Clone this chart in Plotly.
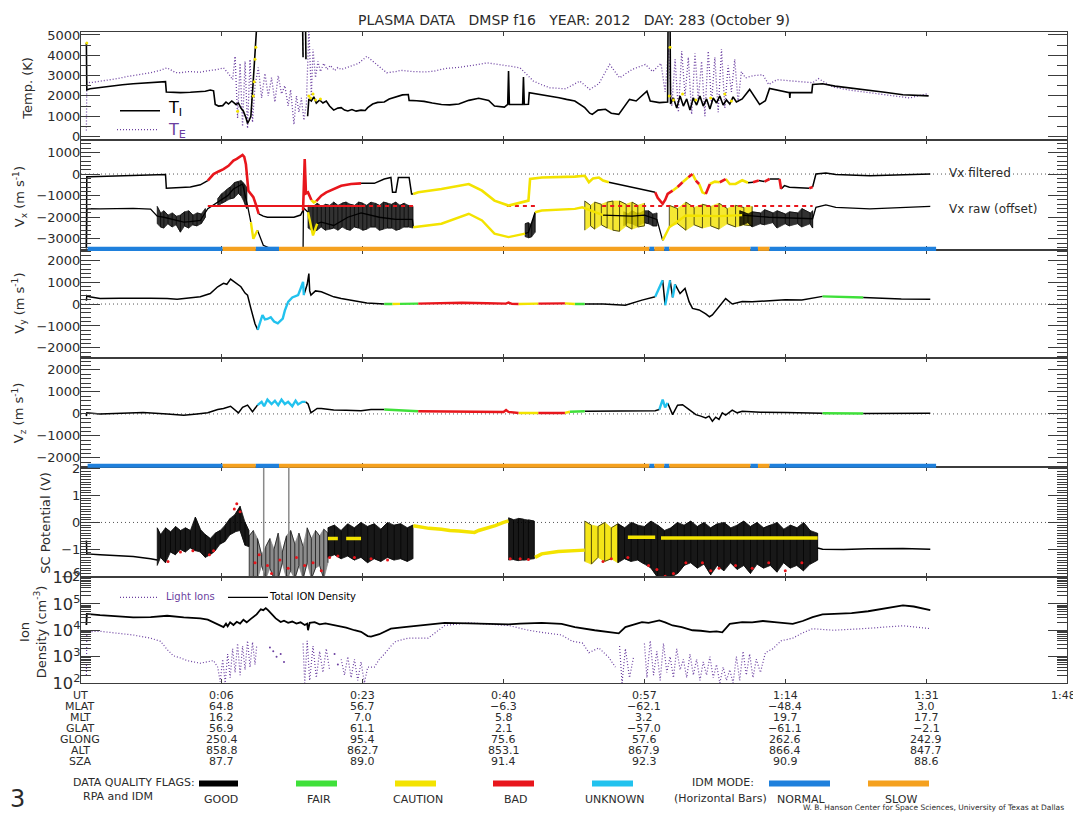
import plotly.graph_objects as go

# =========================== DATA =======================================
# time axis: minutes of UT (2012 day 283); axis starts 11 min before 0:00
T_RANGE = [-11, 108]
ut_ticks = [6, 23, 40, 57, 74, 91, 108]
ut_labels = ["0:06", "0:23", "0:40", "0:57", "1:14", "1:31", "1:48"]
mlat_vals = [64.8, 56.7, -6.3, -62.1, -48.4, 3.0]
mlt_vals = [16.2, 7.0, 5.8, 3.2, 19.7, 17.7]
glat_vals = [56.9, 61.1, 2.1, -57.0, -61.1, -2.1]
glong_vals = [250.4, 95.4, 75.6, 57.6, 262.6, 242.9]
alt_vals = [858.8, 862.7, 853.1, 867.9, 866.4, 847.7]
sza_vals = [87.7, 89.0, 91.4, 92.3, 90.9, 88.6]

# ---- Temperatures (K) : (t, value) ----
ti_pts = [(-10.35,4600),(-10.3,2300),(-9.9,2350),(-8.7,2420),(-7.5,2480),(-6.0,2550),(-4.7,2600),(-3.5,2630),
          (-2.6,2650),(-1.5,2680),(-0.8,2700),(-0.7,2190),(0.2,2170),(1.0,2160),(2.2,2180),(3.4,2190),(4.0,2230),
          (4.6,2290),(5.0,2250),(5.2,1580),(5.6,1500),(6.1,1520),(6.5,1700),(6.8,1600),(7.2,1750),(7.7,1580),
          (8.0,1650),(8.3,1400),(8.6,1250),(8.9,930),(9.1,650),(9.3,800),(9.5,1000),(9.8,2800),(10.0,4000),
          (10.2,5400),(10.25,None),(15.75,5400),(15.8,3900),(15.85,None),(16.1,5400),(16.15,3800),(16.2,None),
          (16.35,1000),(16.5,1850),(16.8,1750),(17.1,1950),(17.4,1650),(17.8,1800),(18.2,1650),(18.6,1750),
          (19.0,1500),(19.5,1300),(20.0,1400),(20.4,1420),(20.8,1300),(21.2,1260),(21.7,1330),(22.2,1250),
          (22.8,1300),(23.3,1280),(23.6,1420),(24.2,1600),(24.8,1680),(25.6,1700),(26.2,1850),(27.0,1950),
          (27.8,2050),(28.5,2070),(28.6,1780),(29.5,1760),(30.4,1730),(31.4,1650),(32.5,1580),(33.5,1560),
          (34.6,1600),(35.8,1780),(37.0,1880),(38.2,1780),(38.9,1500),(40.1,1450),(40.5,1580),(40.6,3220),
          (40.7,1580),(42.3,1580),(42.4,2930),(42.5,1580),(43.0,1590),(43.1,2160),(44.6,2070),(45.6,2000),
          (46.7,1910),(47.6,1830),(48.6,1750),(49.8,1420),(50.4,1150),(50.7,1090),(51.4,1300),(52.3,1340),
          (53.0,1150),(53.9,1090),(54.5,1450),(55.2,1830),(56.0,1750),(56.7,1990),(57.3,2230),(57.7,1750),
          (58.8,1670),(59.8,1700),(59.85,5400),(60.1,5400),(60.15,1600),(60.5,1900),(60.9,1400),(61.3,2000),
          (61.7,1500),(62.1,1850),(62.5,1300),(62.9,1900),(63.3,1550),(63.7,2000),(64.1,1500),(64.5,1850),
          (64.9,1350),(65.3,1900),(65.7,1650),(66.1,2000),(66.5,1550),(66.9,1800),(67.3,1600),(67.7,1950),
          (68.1,1700),(68.8,1850),(69.7,2320),(70.9,1580),(71.6,1760),(72.1,2370),(73.7,2240),(74.5,2160),
          (74.55,1900),(74.6,2160),(76.1,2160),(77.2,2160),(77.3,2560),(78.5,2600),(80.0,2480),(83.4,2330),
          (86.0,2180),(88.2,2060),(91.3,2000)]
ti_caution_pts = [(-10.3,4600),(7.9,1250),(9.8,2000),(9.9,2700),(10.0,3800),(10.1,4400),(16.5,2000),(16.7,1900),
                  (17.0,2100),(17.3,1800),(17.9,1850),(60.0,2000),(60.1,4400),(60.5,1800),(61.6,2100),(63.2,1800),
                  (65.0,1900),(66.7,2100),(67.5,1750)]
te_pts = [(-10.35,300),(-10.3,2700),(-9.9,2650),(-9.0,2700),(-8.0,2760),(-7.5,2780),(-6.5,2860),(-5.5,2950),
          (-4.7,3000),(-3.5,3080),(-2.6,3140),(-1.5,3250),(-0.6,3380),(0.4,3150),(1.0,3140),(2.0,3200),(3.4,3170),
          (4.5,3250),(5.5,3300),(6.2,3380),(6.8,3100),(7.3,2800),(7.6,3950),(7.9,900),(8.2,3600),(8.5,500),
          (8.8,3700),(9.1,400),(9.4,3800),(9.7,700),(10.0,2500),(10.4,3400),(10.8,1900),(11.2,3100),(11.6,2000),
          (12.0,2900),(12.4,1700),(12.8,3000),(13.2,2100),(13.6,2500),(14.0,1500),(14.3,2300),(14.7,600),
          (15.0,2000),(15.3,1200),(15.6,1900),(15.9,800),(16.2,1600),(16.5,5300),(16.8,2000),(17.0,4300),
          (17.3,2900),(17.6,3700),(17.9,3200),(18.3,3600),(18.7,3300),(19.1,3500),(19.6,3250),(20.0,3400),
          (20.4,3300),(21.0,3380),(21.6,3460),(22.5,3600),(23.5,3950),(24.7,3550),(25.9,3140),(27.0,3200),
          (27.6,3260),(29.0,3200),(30.5,3180),(31.6,3220),(33.0,3350),(34.5,3400),(35.6,3460),(37.0,3550),
          (38.0,3630),(39.6,3550),(41.0,3450),(42.0,3380),(43.6,2730),(44.6,2550),(45.6,2400),(47.5,2350),
          (49.2,2730),(50.4,2320),(51.5,2600),(52.8,3550),(54.0,2890),(55.5,3300),(57.1,3550),(58.0,3200),
          (59.0,3600),(59.5,2200),(59.9,4300),(60.3,1500),(60.7,3800),(61.1,1200),(61.5,4200),(61.9,2000),
          (62.3,3900),(62.7,1100),(63.1,4100),(63.5,1800),(63.9,3700),(64.3,1000),(64.7,4200),(65.1,1600),
          (65.5,3900),(65.9,1200),(66.3,4300),(66.7,1400),(67.1,3500),(67.5,2200),(67.9,3800),(68.3,1700),
          (68.7,3200),(69.2,2890),(70.2,3000),(71.3,3040),(72.0,2560),(73.0,2800),(74.5,2750),(75.8,2730),
          (77.3,2650),(78.0,2850),(79.7,2450),(81.5,2300),(83.8,2180),(86.0,2060),(88.0,1960),(89.0,1900),
          (90.5,2050),(91.3,2120)]

# ---- Velocities (m/s) : (t, value, quality flag) G=good F=fair C=caution B=bad U=unknown ----
vx_filt = [(-10.35,-3400,'G'),(-10.3,-130,'G'),(-9.9,-130,'G'),(-7.5,-110,'G'),(-4.7,-80,'G'),(-2.6,-60,'G'),
           (-0.8,-20,'G'),(-0.7,-660,'G'),(1.0,-640,'G'),(2.2,-600,'G'),(3.4,-500,'G'),(4.3,-300,'B'),(5.0,0,'B'),
           (5.6,120,'B'),(6.2,230,'B'),(6.8,380,'B'),(7.4,620,'B'),(7.8,700,'B'),(8.2,820,'B'),(8.5,880,'B'),
           (8.7,800,'B'),(8.9,460,'B'),(9.2,-770,'B'),(9.5,-900,'B'),(9.8,-1070,'B'),(10.1,-1400,'B'),
           (10.45,-1840,'G'),(11.0,-1950,'G'),(11.5,-2000,'G'),(13.0,-2000,'G'),(14.7,-2000,'G'),(15.5,-1900,'G'),
           (15.8,-1680,'B'),(16.0,690,'B'),(16.15,-900,'B'),(16.4,-850,'B'),(16.8,-1200,'C'),(17.1,-1310,'C'),
           (17.4,-1250,'B'),(18.0,-1000,'B'),(18.6,-850,'B'),(19.5,-690,'B'),(20.4,-540,'B'),(21.6,-460,'B'),
           (22.8,-430,'G'),(24.4,-430,'G'),(25.6,-230,'G'),(26.4,-160,'G'),(26.6,-845,'G'),(27.0,-845,'G'),
           (27.3,-160,'G'),(28.6,-160,'G'),(28.9,-920,'G'),(29.1,-920,'C'),(29.7,-845,'C'),(32.5,-690,'C'),
           (35.8,-460,'C'),(37.4,-770,'C'),(38.9,-1230,'C'),(40.6,-1460,'C'),(41.5,-1380,'C'),(43.0,-1230,'C'),
           (43.2,-230,'C'),(44.6,-160,'C'),(48.6,-120,'C'),(49.8,-80,'C'),(50.3,-380,'C'),(50.8,-200,'C'),
           (51.5,-160,'C'),(52.0,-300,'C'),(52.7,-380,'G'),(54.7,-535,'G'),(56.7,-690,'G'),(58.3,-840,'B'),
           (58.6,-1100,'B'),(59.2,-1380,'B'),(59.5,-1200,'B'),(59.8,-920,'B'),(60.4,-770,'C'),(61.0,-600,'B'),
           (61.6,-380,'C'),(62.3,-150,'B'),(62.8,0,'C'),(63.2,-300,'B'),(63.6,-460,'C'),(64.0,-845,'C'),
           (64.4,-920,'B'),(64.9,-460,'C'),(65.5,-350,'C'),(66.1,-380,'B'),(66.8,-230,'C'),(67.3,-460,'C'),
           (68.0,-460,'C'),(68.8,-290,'C'),(69.5,-400,'G'),(70.1,-380,'B'),(70.8,-300,'G'),(71.5,-350,'B'),
           (72.1,-230,'G'),(73.3,-230,'B'),(73.5,-690,'G'),(73.9,-535,'G'),(74.5,-610,'G'),(76.9,-660,'B'),
           (77.3,-600,'G'),(77.5,-300,'G'),(77.7,0,'G'),(78.9,50,'G'),(80.1,-20,'G'),(84.2,-75,'G'),
           (88.2,-20,'G'),(91.5,0,'G')]
vx_raw = [(-10.35,-3450,'G'),(-10.3,-1600,'G'),(-8.7,-1610,'G'),(-6.3,-1600,'G'),(-4.7,-1590,'G'),(-2.6,-1620,'G'),
          (-1.8,-1950,'G'),(-1.0,-2000,'G'),(0.6,-2150,'G'),(1.4,-2230,'G'),(2.2,-2200,'G'),(3.4,-2150,'G'),
          (4.3,-1600,'G'),(5.5,-1300,'G'),(6.7,-1000,'G'),(7.4,-690,'G'),(8.0,-550,'G'),(8.5,-460,'G'),
          (9.1,-1460,'G'),(9.5,-2230,'C'),(9.8,-3000,'C'),(10.3,-2600,'G'),(11.0,-3300,'G'),(11.9,-3450,'G'),
          (12.8,-3530,'G'),(12.9,None,'G'),(15.8,-3530,'G'),(15.85,-1560,'G'),(16.4,-1770,'C'),(17.0,-2840,'C'),
          (17.5,-2300,'G'),(18.0,-2230,'G'),(19.5,-2380,'G'),(21.2,-2000,'G'),(22.8,-1800,'G'),(25.0,-2000,'G'),
          (27.0,-2100,'G'),(29.0,-2100,'G'),(29.1,-2460,'C'),(32.5,-2300,'C'),(35.8,-1840,'C'),(37.4,-2150,'C'),
          (38.9,-2760,'C'),(40.6,-2920,'C'),(42.6,-2760,'G'),(43.0,-2700,'G'),(43.8,-1770,'C'),(44.6,-1690,'C'),
          (48.6,-1610,'C'),(49.5,-1540,'C'),(52.0,-1900,'G'),(55.5,-1950,'G'),(57.0,-1900,'G'),(58.5,-2100,'G'),
          (59.2,-3070,'C'),(60.0,-2460,'C'),(62.0,-1920,'C'),(66.0,-1950,'C'),(68.8,-1900,'G'),(72.0,-2000,'G'),
          (77.3,-2070,'G'),(77.7,-1540,'G'),(78.9,-1430,'G'),(80.1,-1540,'G'),(84.2,-1610,'G'),(88.0,-1560,'G'),
          (91.5,-1500,'G')]
# noisy spread of raw Vx: (flag, times, low, high)
vx_raw_spread = [
    ('G', [-1.8,-1.4,-1.0,-0.5,0.0,0.5,1.0,1.5,2.0,2.5,3.0,3.5,4.0],
          [-2300,-2450,-2500,-2300,-2450,-2350,-2690,-2400,-2500,-2350,-2400,-2300,-2000],
          [-1500,-1800,-1700,-1900,-1800,-1950,-1900,-1750,-1700,-1900,-1800,-1850,-1600]),
    ('G', [5.5,6.0,6.5,7.0,7.5,8.0,8.3,8.7,9.0], [-1500,-1350,-1250,-1150,-1100,-900,-1000,-1300,-1600],
          [-1150,-900,-750,-600,-400,-350,-300,-450,-600]),
    ('G', [16.4,17.0,17.5,18.0,18.5,19.0,19.5,20.0,20.5,21.0,21.5,22.0,22.5,23.0,23.5,24.0,24.5,25.0,25.5,26.0,
           26.5,27.0,27.5,28.0,28.5,29.05],
          [-2500,-2650,-2600,-2450,-2600,-2550,-2500,-2600,-2450,-2550,-2600,-2450,-2500,-2600,-2550,-2450,
           -2450,-2600,-2550,-2500,-2500,-2600,-2550,-2450,-2450,-2500],
          [-1450,-1500,-1350,-1500,-1400,-1450,-1300,-1450,-1350,-1300,-1400,-1450,-1300,-1350,-1450,-1300,
           -1350,-1450,-1300,-1350,-1400,-1300,-1450,-1350,-1450,-1500]),
    ('G', [42.6,43.0,43.4,43.8], [-2900,-2950,-2900,-2700], [-2300,-2250,-2350,-1800]),
    ('G', [54.5,55.0,55.5,56.0,56.5,57.0,57.5,58.0,58.5], [-2400,-2250,-2300,-2400,-2350,-2250,-2300,-2400,-2400],
          [-1750,-1850,-1700,-1800,-1800,-1700,-1700,-1850,-1800]),
    ('C', [49.8,50.5,51.0,51.8,52.5,53.2,54.0,54.8,55.5,56.2,57.0],
          [-2600,-2400,-2550,-2350,-2500,-2600,-2650,-2400,-2550,-2450,-2400],
          [-1250,-1450,-1300,-1400,-1300,-1250,-1250,-1400,-1300,-1450,-1350]),
    ('C', [60.0,61.0,62.0,63.0,64.0,65.0,66.0,67.0,68.0,69.0,70.0],
          [-2450,-2300,-2600,-2350,-2500,-2400,-2550,-2300,-2450,-2350,-2400],
          [-1450,-1600,-1300,-1550,-1400,-1500,-1350,-1600,-1450,-1550,-1500]),
    ('G', [68.5,69.5,70.0,71.0,71.5,72.5,73.0,74.0,74.5,75.5,76.0,77.0,77.3],
          [-2400,-2250,-2450,-2300,-2350,-2250,-2500,-2300,-2400,-2300,-2450,-2300,-2500],
          [-1700,-1850,-1750,-1800,-1650,-1800,-1700,-1850,-1750,-1800,-1600,-1800,-1700]),
]
vx_offset_level = -1480
vx_offset_solid = [(4.3, 22.8)]
vx_offset_dashed = [(22.8, 29.1), (40.4, 44.0), (51.9, 77.3)]

vy_pts = [(-10.35,150,'G'),(-10.3,380,'G'),(-10.0,330,'G'),(-8.7,250,'G'),(-6.3,270,'G'),(-4.7,280,'G'),
          (-2.6,270,'G'),(-0.6,250,'G'),(0.6,220,'G'),(2.0,280,'G'),(3.4,330,'G'),(4.6,480,'G'),(5.5,790,'G'),
          (6.2,950,'G'),(6.6,900,'G'),(7.05,1140,'G'),(7.5,1000,'G'),(8.3,790,'G'),(8.8,500,'G'),(9.1,410,'G'),
          (9.5,-200,'G'),(9.8,-600,'G'),(10.0,-900,'G'),(10.33,-1180,'U'),(10.6,-800,'U'),(10.9,-500,'U'),
          (11.2,-700,'U'),(11.5,-680,'U'),(11.9,-600,'U'),(12.3,-800,'U'),(12.75,-880,'U'),(13.1,-750,'U'),
          (13.35,-660,'U'),(13.6,-300,'U'),(14.0,100,'U'),(14.5,300,'U'),(15.2,410,'U'),(15.5,700,'U'),
          (15.8,1010,'U'),(15.9,410,'G'),(16.3,900,'G'),(16.5,1390,'G'),(16.6,600,'G'),(16.75,410,'G'),
          (17.3,600,'G'),(18.0,560,'G'),(18.8,450,'G'),(19.5,330,'G'),(20.4,250,'G'),(21.6,180,'G'),
          (22.4,100,'G'),(23.5,50,'G'),(25.6,0,'F'),(26.6,0,'C'),(27.5,10,'F'),(29.7,20,'B'),(32.0,50,'B'),
          (35.0,60,'B'),(38.0,40,'B'),(40.3,20,'B'),(40.6,70,'B'),(41.0,10,'B'),(41.8,0,'C'),(44.2,20,'B'),
          (47.4,30,'C'),(48.6,0,'F'),(49.8,0,'G'),(52.0,0,'G'),(54.7,-50,'G'),(55.5,50,'G'),(56.7,180,'G'),
          (58.3,330,'U'),(59.2,1090,'G'),(59.5,-50,'U'),(60.1,1090,'G'),(60.4,300,'U'),(60.7,900,'G'),
          (61.3,480,'G'),(61.9,710,'G'),(62.4,100,'G'),(62.8,-200,'G'),(63.6,-270,'G'),(64.4,-450,'G'),
          (64.85,-580,'G'),(65.2,-500,'G'),(66.4,100,'G'),(66.8,250,'G'),(67.6,0,'G'),(68.8,120,'G'),
          (70.0,100,'G'),(72.0,150,'G'),(74.0,200,'G'),(76.0,180,'G'),(78.5,350,'F'),(81.0,330,'F'),
          (83.4,300,'G'),(86.0,250,'G'),(88.0,230,'G'),(91.5,220,'G')]
vz_pts = [(-10.35,-100,'G'),(-10.3,50,'G'),(-8.7,0,'G'),(-6.0,30,'G'),(-3.5,70,'G'),(-0.6,0,'G'),(1.4,-60,'G'),
          (3.0,0,'G'),(4.3,50,'G'),(5.5,200,'G'),(6.2,250,'G'),(7.05,350,'G'),(7.5,200,'G'),(8.0,50,'G'),
          (8.5,300,'G'),(9.1,400,'G'),(9.7,100,'G'),(10.3,400,'U'),(10.8,550,'U'),(11.1,350,'U'),(11.5,650,'U'),
          (12.0,450,'U'),(12.4,600,'U'),(12.8,400,'U'),(13.2,650,'U'),(13.6,450,'U'),(14.0,550,'U'),
          (14.5,350,'U'),(14.9,600,'U'),(15.2,430,'U'),(15.7,550,'U'),(16.1,550,'G'),(16.4,450,'G'),
          (16.75,50,'G'),(17.5,250,'G'),(18.0,250,'G'),(19.5,180,'G'),(21.0,170,'G'),(22.8,150,'G'),
          (24.0,200,'G'),(25.6,200,'F'),(29.7,120,'B'),(35.0,90,'B'),(40.0,90,'B'),(40.3,180,'B'),(40.6,90,'B'),
          (41.8,45,'C'),(44.2,45,'B'),(47.4,45,'C'),(48.0,100,'F'),(49.8,120,'G'),(55.0,120,'G'),(58.3,150,'G'),
          (58.8,200,'U'),(59.2,650,'U'),(59.5,300,'U'),(59.8,500,'G'),(60.1,250,'G'),(60.4,-30,'G'),
          (61.0,400,'G'),(61.6,420,'G'),(62.4,200,'G'),(63.2,-30,'G'),(63.8,-100,'G'),(64.4,-180,'G'),
          (64.8,-100,'G'),(65.2,-330,'G'),(65.6,-150,'G'),(66.0,-250,'G'),(66.4,45,'G'),(66.8,-50,'G'),
          (67.6,170,'G'),(68.2,50,'G'),(68.8,120,'G'),(71.0,80,'G'),(74.0,60,'G'),(77.0,50,'G'),(78.5,30,'F'),
          (83.4,20,'G'),(85.0,20,'G'),(91.5,30,'G')]

# IDM mode (horizontal bars): (start, end, mode) N=normal S=slow
idm_segments = [(-10.2,6.1,'N'),(6.1,10.1,'S'),(10.1,12.9,'N'),(12.9,57.6,'S'),(57.6,58.2,'N'),(58.2,59.4,'S'),
                (59.4,60.0,'N'),(60.0,69.8,'S'),(69.8,70.7,'N'),(70.7,72.1,'S'),(72.1,92.2,'N')]

# ---- Spacecraft potential (V) ----
sc_quiet = [(-10.35,-0.67),(-10.3,-1.17),(-8.7,-1.2),(-6.3,-1.24),(-4.7,-1.27),(-2.6,-1.35),(-1.8,-1.4),
            (-1.75,None),(77.9,-0.95),(78.5,-1.0),(81.0,-1.01),(84.0,-0.98),(88.2,-0.97),(91.5,-1.0)]
sc_caution = [(18.8,-0.6),(20.0,-0.6),(20.05,None),(21.0,-0.6),(22.8,-0.6),(22.85,None),(29.1,-0.12),(30.0,-0.18),
              (31.0,-0.22),(32.5,-0.25),(33.5,-0.3),(34.6,-0.32),(35.5,-0.35),(36.5,-0.37),(37.0,-0.3),
              (38.0,-0.22),(39.0,-0.12),(40.0,0.0),(40.6,0.06),(40.65,None),(43.8,-1.3),(44.6,-1.17),
              (46.6,-1.08),(48.6,-1.03),(49.8,-1.03),(49.85,None),(55.0,-0.55),(58.3,-0.55),(58.35,None),
              (59.0,-0.58),(77.9,-0.58)]
# (flag, fill opacity, times, low, high)
sc_spread = [
    ('G', 0.9, [-1.8,-1.4,-0.8,-0.2,0.4,1.0,1.6,2.2,2.8,3.4,4.0,4.6,5.2,5.8,6.4,7.0,7.6,8.2,8.8,9.25],
     [-1.6,-1.3,-1.5,-1.1,-1.2,-1.0,-1.1,-0.95,-1.05,-1.1,-1.3,-1.2,-1.05,-0.8,-0.7,-0.45,-0.35,-0.3,-0.85,-0.9],
     [-0.2,-0.45,-0.2,-0.35,-0.15,-0.3,-0.2,-0.3,0.2,-0.25,-0.45,-0.6,-0.4,-0.3,-0.1,0.15,0.3,0.6,0.0,-0.3]),
    ('G', 0.45, [9.3,9.8,10.3,10.8,11.3,11.8,12.3,12.8,13.3,13.8,14.3,14.8,15.3,15.8,16.3,16.8,17.3,17.8,18.3,18.8],
     [-2.1,-2.1,-2.1,-1.6,-2.1,-1.7,-2.1,-2.1,-1.5,-2.1,-1.8,-2.1,-1.6,-2.1,-1.5,-2.1,-1.7,-1.6,-2.1,-1.5],
     [-0.5,-0.3,-0.6,-1.2,-0.9,-0.6,-1.0,-0.4,-1.1,-0.5,-0.3,-0.8,-0.4,-0.9,-0.2,-0.6,-0.3,-0.5,-0.25,-0.4]),
    ('G', 0.9, [18.8,19.6,20.4,21.2,22.0,22.8,23.6,24.4,25.2,26.0,26.8,27.6,28.4,29.05],
     [-1.3,-1.2,-1.35,-1.25,-1.4,-1.3,-1.5,-1.35,-1.45,-1.3,-1.4,-1.35,-1.45,-1.35],
     [-0.2,-0.1,-0.3,-0.05,-0.2,0.0,-0.15,-0.05,-0.25,0.0,-0.1,-0.05,-0.2,-0.1]),
    ('G', 0.9, [40.6,41.2,41.8,42.4,43.0,43.7], [-1.4,-1.38,-1.42,-1.4,-1.38,-1.35], [0.17,0.1,0.15,0.12,0.1,0.05]),
    ('C', 0.9, [49.8,50.6,51.4,52.2,53.0,53.8], [-1.45,-1.55,-1.3,-1.45,-1.35,-1.5], [0.05,-0.1,-0.15,0.0,-0.2,-0.05]),
    ('G', 0.9, [53.8,54.6,55.4,56.2,57.0,57.8,58.6,59.4,60.2,61.0,61.8,62.6,63.4,64.2,65.0,65.8,66.6,67.4,68.2,
                69.0,69.8,70.6,71.4,72.2,73.0,73.8,74.6,75.4,76.2,77.0,77.9],
     [-1.5,-1.35,-1.45,-1.4,-1.55,-1.7,-2.05,-2.1,-2.05,-1.9,-1.6,-1.5,-1.7,-1.55,-1.95,-1.6,-1.8,-1.5,-1.75,
      -1.6,-1.9,-1.55,-1.7,-1.6,-1.85,-1.5,-1.7,-1.6,-1.8,-1.55,-1.4],
     [-0.05,-0.2,0.0,-0.1,-0.15,0.05,-0.1,-0.3,-0.2,0.0,-0.1,0.05,-0.15,0.0,-0.2,-0.05,0.0,-0.2,-0.1,0.05,
      -0.15,0.0,-0.2,-0.1,0.0,-0.25,-0.1,-0.2,0.0,-0.3,-0.4]),
]
sc_bad_pts = [(-0.5,-1.45),(1.0,-1.1),(2.5,-1.05),(4.5,-1.2),(5.0,-1.05),(7.5,0.5),(7.8,0.7),(8.2,0.4),(10.0,-1.5),
              (10.5,-1.2),(11.5,-1.6),(12.0,-1.9),(13.0,-1.4),(14.0,-1.7),(15.0,-1.3),(16.0,-1.6),(17.0,-1.5),
              (18.0,-1.8),(19.0,-1.3),(20.0,-1.25),(22.0,-1.3),(24.0,-1.35),(26.0,-1.4),(40.8,-1.35),(42.0,-1.35),
              (43.0,-1.38),(52.0,-1.45),(53.0,-1.35),(55.0,-1.3),(57.5,-1.6),(58.5,-1.75),(59.5,-2.0),(60.5,-1.9),
              (62.0,-1.5),(64.0,-1.5),(65.0,-1.8),(66.0,-1.7),(68.0,-1.6),(70.0,-1.7),(72.0,-1.5),(74.0,-1.8),
              (76.0,-1.5)]
sc_spike_times = [11.05, 14.08]

# ---- Ion density, log10(cm^-3) ----
ntot_log = [(-10.35,4.2),(-10.3,4.62),(-8.7,4.57),(-6.3,4.53),(-4.7,4.49),(-2.6,4.5),(-0.6,4.55),(1.4,4.49),
            (3.4,4.45),(4.3,4.40),(5.0,4.3),(5.5,4.2),(6.2,4.12),(6.5,4.25),(6.7,4.15),(7.0,4.3),(7.4,4.2),
            (7.8,4.32),(8.2,4.25),(8.6,4.4),(9.0,4.3),(9.5,4.43),(9.8,4.5),(10.2,4.6),(10.5,4.72),(10.7,4.79),
            (11.0,4.76),(11.3,4.84),(11.6,4.75),(11.9,4.65),(12.5,4.45),(13.1,4.31),(13.5,4.36),(14.0,4.28),
            (14.5,4.33),(15.0,4.25),(15.5,4.3),(16.0,4.2),(16.3,4.25),(16.4,4.0),(16.6,4.28),(17.2,4.31),
            (17.8,4.22),(18.5,4.26),(19.5,4.19),(21.0,4.1),(22.0,4.0),(22.8,3.94),(23.6,3.78),(24.0,3.76),
            (25.0,3.85),(26.4,4.06),(28.0,4.12),(29.7,4.18),(32.9,4.28),(35.8,4.26),(38.0,4.24),(40.6,4.22),
            (42.0,4.25),(44.6,4.28),(47.0,4.24),(48.6,4.12),(51.0,4.0),(53.9,3.88),(54.7,4.12),(55.5,4.2),
            (56.7,4.31),(57.5,4.28),(58.8,4.37),(59.5,4.3),(60.4,4.18),(61.5,4.12),(62.8,4.0),(63.8,3.98),
            (64.9,3.94),(65.7,3.96),(66.4,3.92),(67.3,4.24),(68.8,4.31),(70.0,4.3),(71.3,4.35),(73.0,4.3),
            (74.9,4.24),(76.1,4.35),(77.3,4.5),(78.5,4.6),(80.0,4.63),(82.0,4.65),(84.0,4.72),(86.0,4.82),
            (88.2,4.94),(89.5,4.9),(91.5,4.76)]
nlight_log = [(-10.35,2.3),(-10.3,3.94),(-8.7,3.96),(-6.3,3.88),(-4.7,3.82),(-2.6,3.7),(-1.4,3.58),(-0.6,3.27),
              (0.15,3.03),(1.0,2.95),(1.8,2.85),(2.6,2.8),(3.4,2.75),(4.2,2.8),(5.0,2.85),(5.5,2.6),(5.8,2.05),
              (6.1,2.9),(6.4,2.0),(6.7,3.1),(7.0,2.2),(7.3,3.3),(7.6,2.4),(7.9,3.5),(8.2,2.3),(8.5,3.4),(8.8,2.5),
              (9.1,3.6),(9.4,2.6),(9.7,3.55),(10.0,2.7),(10.2,3.4),(10.3,None),(15.8,3.5),(16.0,2.0),(16.3,3.6),
              (16.6,2.1),(17.0,3.4),(17.4,2.2),(17.8,3.2),(18.2,2.4),(18.6,3.3),(19.0,2.5),(19.2,None),(20.4,2.9),
              (20.8,2.3),(21.2,3.0),(21.6,2.2),(22.0,2.9),(22.4,2.1),(22.8,2.8),(23.2,2.0),(23.6,2.6),(24.4,2.6),
              (25.0,2.9),(25.6,3.09),(26.4,3.4),(27.0,3.58),(28.5,3.7),(30.9,3.7),(32.9,4.18),(35.8,4.28),
              (40.6,4.18),(43.0,4.0),(44.6,3.92),(47.0,3.82),(48.3,3.58),(49.5,3.52),(50.3,3.15),(51.5,3.33),
              (52.7,2.97),(53.5,2.6),(53.6,None),(54.0,3.4),(54.3,2.0),(54.7,3.3),(55.2,2.2),(55.7,3.0),(55.8,None),
              (57.0,3.5),(57.3,2.2),(57.7,3.6),(58.1,2.3),(58.5,3.2),(58.9,2.1),(59.3,3.5),(59.7,2.4),(60.1,3.0),
              (60.5,2.2),(60.9,3.3),(61.3,2.5),(61.7,2.9),(62.1,2.2),(62.5,3.1),(62.9,2.3),(63.3,2.9),(63.7,2.1),
              (64.1,2.8),(64.5,2.3),(64.9,3.0),(65.3,2.2),(65.7,2.7),(66.1,2.0),(66.5,2.6),(66.9,2.1),(67.3,2.5),
              (67.7,2.0),(68.1,3.0),(68.5,2.1),(68.9,3.2),(69.3,2.3),(69.7,3.1),(70.1,2.2),(70.5,2.9),(71.0,2.4),
              (71.6,3.15),(72.5,3.3),(73.5,3.6),(74.9,3.7),(76.1,3.9),(77.3,4.06),(79.8,4.0),(83.4,4.06),
              (88.2,4.17),(91.5,4.06)]
nlight_dots_log = [(11.8,3.35),(12.2,3.2),(12.6,3.0),(13.1,3.1),(13.5,2.8),(19.6,3.1),(20.0,2.7)]

# =========================== STYLE ======================================
FONT = "DejaVu Sans"
AX = "#3c3c3c"
TXT = "#2b2b2b"
PURPLE = "#6b3fa0"
QCOL = {'G': '#000000', 'F': '#3fe03a', 'C': '#f3e300', 'B': '#e8161c', 'U': '#22c2ee'}
IDM_COL = {'N': '#1f80dc', 'S': '#f5a11f'}
PANEL_PX = [29, 137, 248, 357, 466, 577, 683]   # panel borders (page pixels from top)
L_PX, R_PX = 81, 1067                           # plot left / right (page pixels)
PAGE_W, PAGE_H = 1081, 814
BODY = 8                                         # default page margin around the figure div
W, H = PAGE_W - BODY, PAGE_H - BODY


def px(xp):
    return (xp - L_PX) / (R_PX - L_PX)


def py(yp):
    return (PANEL_PX[-1] - yp) / (PANEL_PX[-1] - PANEL_PX[0])


fig = go.Figure()


def axn(i):
    return ('x' if i == 1 else f'x{i}'), ('y' if i == 1 else f'y{i}')


def add_pts(pts, i, color, width, dash=None, mode='lines', conv=None, msize=4, opacity=1.0):
    xa, ya = axn(i)
    xs = [p[0] for p in pts]
    ys = [p[1] for p in pts]
    if conv:
        ys = [conv(v) if v is not None else None for v in ys]
    fig.add_trace(go.Scatter(x=xs, y=ys, mode=mode, xaxis=xa, yaxis=ya, opacity=opacity,
                             line=dict(color=color, width=width, dash=dash),
                             marker=dict(color=color, size=msize),
                             hoverinfo='skip', showlegend=False))


def add_qline(pts, i, width=1.4, cwidth=2.2):
    xa, ya = axn(i)
    for code, col in QCOL.items():
        xs, ys, last = [], [], None
        for k in range(len(pts) - 1):
            t0, v0, q0 = pts[k]
            t1, v1, _ = pts[k + 1]
            if q0 != code or v0 is None or v1 is None:
                continue
            if last != k:
                if xs:
                    xs.append(None); ys.append(None)
                xs.append(t0); ys.append(v0)
            xs.append(t1); ys.append(v1)
            last = k + 1
        if xs:
            fig.add_trace(go.Scatter(x=xs, y=ys, mode='lines', xaxis=xa, yaxis=ya,
                                     line=dict(color=col, width=width if code == 'G' else cwidth),
                                     hoverinfo='skip', showlegend=False))


def add_band(t, lo, hi, i, color, opacity=0.9, comb=None):
    xa, ya = axn(i)
    fig.add_trace(go.Scatter(x=list(t) + list(t)[::-1], y=list(hi) + list(lo)[::-1], fill='toself',
                             fillcolor=color, mode='lines', line=dict(color=color, width=0.8),
                             opacity=opacity, xaxis=xa, yaxis=ya, hoverinfo='skip', showlegend=False))
    if comb:
        xs, ys = [], []
        for k in range(len(t)):
            a, b = (lo[k], hi[k]) if k % 2 == 0 else (hi[k], lo[k])
            xs += [t[k], t[k]]
            ys += [a, b]
        fig.add_trace(go.Scatter(x=xs, y=ys, mode='lines', line=dict(color=comb, width=0.9),
                                 opacity=0.75, xaxis=xa, yaxis=ya, hoverinfo='skip', showlegend=False))


# ---- panel 1: temperatures ----
add_pts(te_pts, 1, PURPLE, 1.3, dash='1px,2px')
add_pts(ti_pts, 1, '#000000', 1.6)
add_pts(ti_caution_pts, 1, QCOL['C'], 1, mode='markers', msize=3)

# ---- panel 2: Vx ----
for code, t, lo, hi in vx_raw_spread:
    add_band(t, lo, hi, 2, QCOL[code], opacity=0.8, comb='#000000')
add_qline(vx_raw, 2, width=1.3, cwidth=2.4)
for a, b in vx_offset_solid:
    add_pts([(a, vx_offset_level), (b, vx_offset_level)], 2, QCOL['B'], 2)
for a, b in vx_offset_dashed:
    add_pts([(a, vx_offset_level), (b, vx_offset_level)], 2, QCOL['B'], 2, dash='4px,4px')
add_qline(vx_filt, 2, width=1.5, cwidth=2.6)

# ---- panels 3-4: Vy, Vz ----
add_qline(vy_pts, 3, width=1.5, cwidth=2.4)
add_qline(vz_pts, 4, width=1.5, cwidth=2.4)

# ---- panel 5: SC potential ----
for code, op, t, lo, hi in sc_spread:
    add_band(t, lo, hi, 5, QCOL[code], opacity=op, comb='#000000')
for ts in sc_spike_times:
    add_pts([(ts, -2.1), (ts, 2.1)], 5, '#8a8a8a', 1.5)
add_pts(sc_quiet, 5, '#000000', 1.5)
add_pts(sc_caution, 5, QCOL['C'], 3.5)
add_pts(sc_bad_pts, 5, QCOL['B'], 1, mode='markers', msize=3)

# ---- panel 6: ion density ----
add_pts(nlight_log, 6, PURPLE, 1.2, dash='1px,2px', conv=lambda v: 10 ** v)
add_pts(nlight_dots_log, 6, PURPLE, 1, mode='markers', conv=lambda v: 10 ** v, msize=2)
add_pts(ntot_log, 6, '#000000', 1.8, conv=lambda v: 10 ** v)

# =========================== AXES =======================================
ycfg = [
    dict(range=[-147, 5147], dtick=1000, mdtick=500),
    dict(range=[-3516, 1599], dtick=1000, mdtick=200),
    dict(range=[-2486, 2468], dtick=1000, mdtick=200),
    dict(range=[-2412, 2520], dtick=1000, mdtick=200),
    dict(range=[-2.048, 2.063], dtick=1, mdtick=0.1),
    dict(range=[2, 6], dtick=1, mdtick='D1', log=True),
]
layout_axes = {}
for i in range(6):
    n = i + 1
    xk = 'xaxis' if n == 1 else f'xaxis{n}'
    yk = 'yaxis' if n == 1 else f'yaxis{n}'
    top, bot = PANEL_PX[i], PANEL_PX[i + 1]
    layout_axes[xk] = dict(domain=[0, 1], anchor='y' if n == 1 else f'y{n}', range=T_RANGE,
                           tickmode='array', tickvals=ut_ticks, ticks='inside', ticklen=4, tickcolor=AX,
                           showticklabels=False, showline=True, linecolor=AX, linewidth=1,
                           mirror='allticks', showgrid=False, zeroline=False)
    c = ycfg[i]
    yd = dict(domain=[py(bot), py(top)], anchor='x' if n == 1 else f'x{n}', range=c['range'],
              tickmode='linear', tick0=0, dtick=c['dtick'], ticks='inside', ticklen=19,
              tickcolor=AX, showline=True, linecolor=AX, linewidth=1, mirror='allticks',
              showgrid=False, zeroline=False, tickfont=dict(family=FONT, size=13, color=TXT),
              exponentformat='none', separatethousands=False, ticklabelstandoff=-3,
              minor=dict(ticks='inside', ticklen=10, tickcolor=AX, dtick=c['mdtick'], showgrid=False))
    if c.get('log'):
        yd['type'] = 'log'
        yd['exponentformat'] = 'power'
    else:
        yd['minor']['tick0'] = 0
    layout_axes[yk] = yd

fig.update_layout(width=W, height=H,
                  margin=dict(l=L_PX - BODY, r=PAGE_W - R_PX, t=PANEL_PX[0] - BODY, b=PAGE_H - PANEL_PX[-1]),
                  paper_bgcolor='white', plot_bgcolor='white', showlegend=False, hovermode=False,
                  font=dict(family=FONT, color=TXT), **layout_axes)

# =========================== SHAPES =====================================
shapes = []
for n in (2, 3, 4, 5):
    shapes.append(dict(type='line', xref=f'x{n} domain', yref=f'y{n}', x0=0, x1=1, y0=0, y1=0,
                       line=dict(color='#555555', width=1, dash='1px,3px'), layer='below'))
for n in (2, 4):
    for a, b, m in idm_segments:
        shapes.append(dict(type='rect', xref=f'x{n}', yref=f'y{n} domain', x0=a, x1=b, y0=-0.008, y1=0.03,
                           fillcolor=IDM_COL[m], line=dict(width=0), layer='above'))
shapes.append(dict(type='line', xref='paper', yref='paper', x0=px(120), x1=px(160), y0=py(108), y1=py(108),
                   line=dict(color='#000000', width=1.5)))
shapes.append(dict(type='line', xref='paper', yref='paper', x0=px(117), x1=px(158), y0=py(127), y1=py(127),
                   line=dict(color=PURPLE, width=1.3, dash='1px,2px')))
shapes.append(dict(type='line', xref='paper', yref='paper', x0=px(120), x1=px(158), y0=py(597), y1=py(597),
                   line=dict(color=PURPLE, width=1.2, dash='1px,2px')))
shapes.append(dict(type='line', xref='paper', yref='paper', x0=px(228), x1=px(268), y0=py(597), y1=py(597),
                   line=dict(color='#000000', width=1.3)))
flag_keys = [("GOOD", QCOL['G'], 199, 238), ("FAIR", QCOL['F'], 296, 337), ("CAUTION", QCOL['C'], 395, 436),
             ("BAD", QCOL['B'], 493, 534), ("UNKNOWN", QCOL['U'], 592, 633),
             ("NORMAL", IDM_COL['N'], 769, 830), ("SLOW", IDM_COL['S'], 868, 929)]
for name, col, a, b in flag_keys:
    shapes.append(dict(type='rect', xref='paper', yref='paper', x0=px(a), x1=px(b), y0=py(787), y1=py(781),
                       fillcolor=col, line=dict(width=0)))
fig.update_layout(shapes=shapes)


# =========================== TEXT =======================================
def fmt(v):
    return str(v).replace('-', '\u2212')


def txt(text, x, y, size=11, color=TXT, xanchor='center', angle=0, xref='paper'):
    fig.add_annotation(text=text, x=x, y=y, xref=xref, yref='paper', showarrow=False, textangle=angle,
                       font=dict(size=size, color=color, family=FONT), xanchor=xanchor, yanchor='middle')


txt("PLASMA DATA\u00a0\u00a0\u00a0DMSP f16\u00a0\u00a0\u00a0YEAR: 2012\u00a0\u00a0\u00a0DAY: 283 (October 9)",
    px(574), py(17), size=14)
txt("Temp. (K)", px(28), py(86), size=13, angle=-90)
txt("V<sub>x</sub> (m s<sup>-1</sup>)", px(20), py(195), size=13, angle=-90)
txt("V<sub>y</sub> (m s<sup>-1</sup>)", px(19), py(302), size=13, angle=-90)
txt("V<sub>z</sub> (m s<sup>-1</sup>)", px(19), py(412), size=13, angle=-90)
txt("SC Potential (V)", px(46), py(522), size=13, angle=-90)
txt("Ion<br>Density (cm<sup>-3</sup>)", px(33), py(632), size=13, angle=-90)

txt("T<sub>I</sub>", px(166), py(106), size=16, color='#000000', xanchor='left')
txt("T<sub>E</sub>", px(166), py(128), size=16, color=PURPLE, xanchor='left')
txt("Vx filtered", px(947), py(171), size=12, xanchor='left')
txt("Vx raw (offset)", px(947), py(207), size=12, xanchor='left')
txt("Light Ions", px(190), py(596), size=10, color=PURPLE)
txt("Total ION Density", px(312), py(596), size=10, color='#000000')

row_names = ["UT", "MLAT", "MLT", "GLAT", "GLONG", "ALT", "SZA"]
row_values = [ut_labels, mlat_vals, mlt_vals, glat_vals, glong_vals, alt_vals, sza_vals]
for r, (name, vals) in enumerate(zip(row_names, row_values)):
    ypix = 696 + 11 * r
    txt(name, px(80), py(ypix), size=11)
    for k, v in enumerate(vals):
        s = v if isinstance(v, str) else fmt('%.1f' % v)
        if k == len(ut_ticks) - 1:
            txt(s, px(1078), py(ypix), size=11, xanchor='right')
        else:
            txt(s, ut_ticks[k], py(ypix), size=11, xref='x6')

txt("DATA QUALITY FLAGS:", px(197), py(783), size=11, xanchor='right')
txt("RPA and IDM", px(118), py(797), size=11)
for name, col, a, b in flag_keys:
    txt(name, px((a + b) / 2 + 2), py(800), size=11)
txt("IDM MODE:", px(723), py(783), size=11)
txt("(Horizontal Bars)", px(720), py(799), size=11)
txt("W. B. Hanson Center for Space Sciences, University of Texas at Dallas", px(1066), py(808), size=7.5,
    xanchor='right')
txt("3", px(BODY), py(800), size=24, xanchor='left')

fig.write_html("out.html")
